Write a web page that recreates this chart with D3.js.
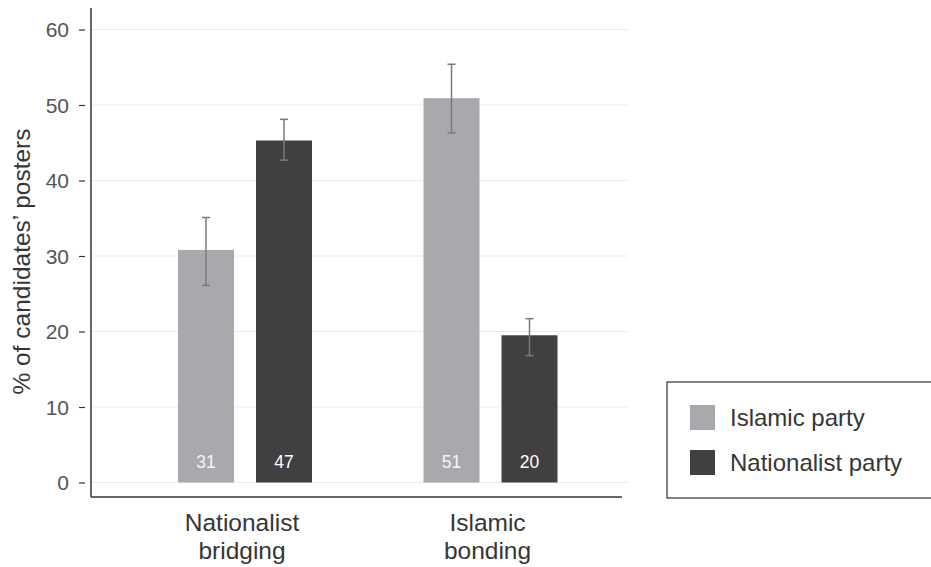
<!DOCTYPE html>
<html>
<head>
<meta charset="utf-8">
<script src="https://cdn.jsdelivr.net/npm/d3@7"></script>
<style>
  html, body { margin: 0; padding: 0; background: #fff; }
  svg { display: block; font-family: "Liberation Sans", Arial, Helvetica, sans-serif; }
</style>
</head>
<body>
<svg id="chart" width="931" height="567"></svg>
<script>
// ---- data ----
const categories = ["Nationalist bridging", "Islamic bonding"];
const seriesNames = ["Islamic party", "Nationalist party"];
const seriesColors = ["#a8a9ac", "#404040"];
const islamicValues = [30.8, 50.9];
const nationalistValues = [45.3, 19.5];
const islamicLow = [26.1, 46.3];
const islamicHigh = [35.1, 55.4];
const nationalistLow = [42.7, 16.8];
const nationalistHigh = [48.1, 21.7];
const islamicCounts = [31, 51];
const nationalistCounts = [47, 20];
const yTicks = [0, 10, 20, 30, 40, 50, 60];
const yLabel = "% of candidates\u2019 posters";

// build rows
const rows = [];
categories.forEach((c, i) => {
  rows.push({cat: c, series: seriesNames[0], value: islamicValues[i], lo: islamicLow[i], hi: islamicHigh[i], n: islamicCounts[i]});
  rows.push({cat: c, series: seriesNames[1], value: nationalistValues[i], lo: nationalistLow[i], hi: nationalistHigh[i], n: nationalistCounts[i]});
});

const svg = d3.select("#chart");
const axisX = 91, axisBottom = 497, axisTop = 8, axisRight = 622, gridRight = 628;

const y = d3.scaleLinear().domain([0, 60]).range([482.5, 29.5]);
const x0 = d3.scaleBand().domain(categories).range([122.25, 613.25]).paddingInner(0).paddingOuter(0);
const x1 = d3.scaleBand().domain(seriesNames).range([-67, 67]).paddingInner(22 / 78).paddingOuter(0);
const color = d3.scaleOrdinal().domain(seriesNames).range(seriesColors);

// gridlines
svg.append("g").selectAll("line").data(yTicks).join("line")
  .attr("x1", axisX).attr("x2", gridRight)
  .attr("y1", d => y(d)).attr("y2", d => y(d))
  .attr("stroke", "#ebebeb").attr("stroke-width", 1.2);

// y axis ticks via d3.axisLeft
const yAxis = d3.axisLeft(y).tickValues(yTicks).tickSize(6).tickPadding(10).tickFormat(d3.format("d"));
const gy = svg.append("g").attr("transform", `translate(${axisX - 6},0)`).call(yAxis);
gy.select(".domain").remove();
gy.selectAll(".tick line").attr("stroke", "#333").attr("stroke-width", 1.2);
gy.selectAll(".tick text").attr("fill", "#555").attr("font-size", 21)
  .attr("font-family", "'Liberation Sans', Arial, Helvetica, sans-serif")
  .attr("dy", "0.35em");

// axis lines
svg.append("line").attr("x1", axisX).attr("x2", axisX).attr("y1", axisTop).attr("y2", axisBottom)
  .attr("stroke", "#333").attr("stroke-width", 1.5);
svg.append("line").attr("x1", axisX).attr("x2", axisRight).attr("y1", axisBottom).attr("y2", axisBottom)
  .attr("stroke", "#333").attr("stroke-width", 1.5);

// bars
const barX = d => x0(d.cat) + x0.bandwidth() / 2 + x1(d.series);
svg.append("g").selectAll("rect").data(rows).join("rect")
  .attr("x", barX)
  .attr("width", x1.bandwidth())
  .attr("y", d => y(d.value))
  .attr("height", d => y(0) - y(d.value))
  .attr("fill", d => color(d.series));

// error bars
const eb = svg.append("g").selectAll("g").data(rows).join("g")
  .attr("transform", d => `translate(${barX(d) + x1.bandwidth() / 2},0)`);
eb.append("line").attr("x1", 0).attr("x2", 0)
  .attr("y1", d => y(d.lo)).attr("y2", d => y(d.hi))
  .attr("stroke", "#7a7a7a").attr("stroke-width", 1.5);
eb.append("line").attr("x1", -4).attr("x2", 4)
  .attr("y1", d => y(d.hi)).attr("y2", d => y(d.hi))
  .attr("stroke", "#7a7a7a").attr("stroke-width", 1.5);
eb.append("line").attr("x1", -4).attr("x2", 4)
  .attr("y1", d => y(d.lo)).attr("y2", d => y(d.lo))
  .attr("stroke", "#7a7a7a").attr("stroke-width", 1.5);

// count labels
svg.append("g").selectAll("text").data(rows).join("text")
  .attr("x", d => barX(d) + x1.bandwidth() / 2)
  .attr("y", 468)
  .attr("text-anchor", "middle")
  .attr("font-size", 17.5)
  .attr("fill", d => d.series === seriesNames[0] ? "#f4f4f4" : "#ffffff")
  .text(d => d.n);

// category labels (two separate lines)
const catLines = [];
categories.forEach(c => c.split(" ").forEach((p, i) => catLines.push({cat: c, line: i, text: p})));
svg.append("g").selectAll("text").data(catLines).join("text")
  .attr("x", d => x0(d.cat) + x0.bandwidth() / 2 - 3)
  .attr("y", d => 531 + d.line * 28.4)
  .attr("text-anchor", "middle")
  .attr("font-size", 24.5)
  .attr("fill", "#363636")
  .text(d => d.text);

// y label
svg.append("text")
  .attr("transform", `translate(30,${261.5}) rotate(-90)`)
  .attr("text-anchor", "middle")
  .attr("font-size", 24.5)
  .attr("fill", "#363636")
  .text(yLabel);

// legend
const lg = svg.append("g");
lg.append("rect").attr("x", 667).attr("y", 382).attr("width", 300).attr("height", 116)
  .attr("fill", "#fff").attr("stroke", "#333").attr("stroke-width", 1.2);
const li = lg.selectAll("g.item").data(seriesNames).join("g").attr("class", "item")
  .attr("transform", (d, i) => `translate(690,${405 + i * 45})`);
li.append("rect").attr("width", 25).attr("height", 25).attr("fill", d => color(d));
li.append("text").attr("x", 40).attr("y", 12.5).attr("dy", "0.35em")
  .attr("font-size", 24).attr("fill", "#363636").text(d => d);
</script>
</body>
</html>
